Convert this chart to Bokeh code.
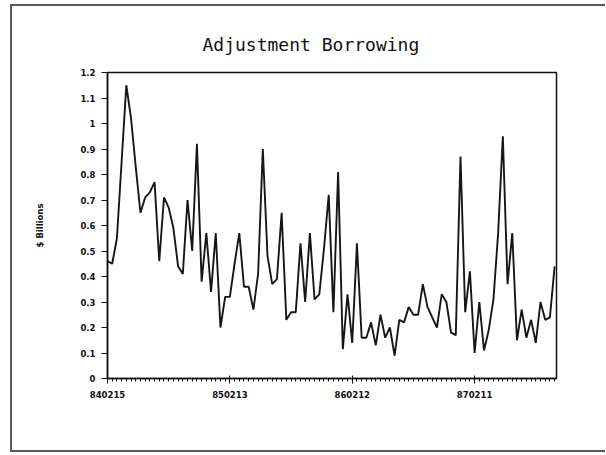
from bokeh.plotting import figure
from bokeh.models import FixedTicker, CustomJSTickFormatter, Range1d, ColumnDataSource
from bokeh.embed import file_html
from bokeh.resources import INLINE

# Biweekly periods starting 840215
period = list(range(96))
borrowing = [
    0.46, 0.45, 0.55, 0.85, 1.15, 1.02, 0.83, 0.65, 0.71, 0.73,
    0.77, 0.46, 0.71, 0.67, 0.59, 0.44, 0.41, 0.70, 0.50, 0.92,
    0.38, 0.57, 0.34, 0.57, 0.20, 0.32, 0.32, 0.45, 0.57, 0.36,
    0.36, 0.27, 0.41, 0.90, 0.48, 0.37, 0.39, 0.65, 0.23, 0.26,
    0.26, 0.53, 0.30, 0.57, 0.31, 0.33, 0.51, 0.72, 0.26, 0.81,
    0.115, 0.33, 0.14, 0.53, 0.16, 0.16, 0.22, 0.13, 0.25, 0.16,
    0.20, 0.09, 0.23, 0.22, 0.28, 0.25, 0.25, 0.37, 0.28, 0.24,
    0.20, 0.33, 0.30, 0.18, 0.17, 0.87, 0.26, 0.42, 0.10, 0.30,
    0.11, 0.19, 0.31, 0.57, 0.95, 0.37, 0.57, 0.15, 0.27, 0.16,
    0.23, 0.14, 0.30, 0.23, 0.24, 0.44,
]
tick_periods = [0, 26, 52, 78]
tick_labels = ["840215", "850213", "860212", "870211"]
y_ticks = [0, 0.1, 0.2, 0.3, 0.4, 0.5, 0.6, 0.7, 0.8, 0.9, 1.0, 1.1, 1.2]

source = ColumnDataSource(dict(period=period, borrowing=borrowing))

p = figure(width=593, height=444, output_backend="svg", toolbar_location=None,
           x_range=Range1d(0, 95.4), y_range=Range1d(0, 1.2),
           min_border_left=95, min_border_right=51, min_border_top=66,
           min_border_bottom=76, background_fill_color="white",
           border_fill_color="white")
p.styles = {
    "box-sizing": "content-box",
    "margin-left": "10px",
    "margin-top": "4px",
    "border-left": "2px solid #5a5a5a",
    "border-top": "2px solid #5a5a5a",
    "border-bottom": "2px solid #5a5a5a",
}

p.title.text = "Adjustment Borrowing"
p.title.align = "left"
p.title.offset = 95
p.title.standoff = 35
p.title.text_font = "DejaVu Sans Mono"
p.title.text_font_size = "18px"
p.title.text_font_style = "normal"
p.title.text_color = "#111111"

p.outline_line_color = "#111111"
p.outline_line_width = 1.5
p.outline_line_alpha = 1.0
p.xgrid.visible = False
p.ygrid.visible = False

p.line("period", "borrowing", source=source, line_color="#161616", line_width=1.9)

xa = p.xaxis[0]
xa.ticker = FixedTicker(ticks=tick_periods, minor_ticks=period)
xa.major_label_overrides = dict(zip(tick_periods, tick_labels))
xa.major_label_text_font = "DejaVu Sans"
xa.major_label_text_font_style = "bold"
xa.major_label_text_font_size = "8.5px"
xa.major_label_text_color = "#111111"
xa.major_label_standoff = 7
xa.major_tick_out = 5
xa.major_tick_in = 3
xa.minor_tick_out = 3
xa.minor_tick_in = 0
xa.axis_line_color = "#111111"
xa.axis_line_width = 1.5
xa.major_tick_line_color = "#111111"
xa.minor_tick_line_color = "#111111"

ya = p.yaxis[0]
ya.ticker = FixedTicker(ticks=y_ticks, minor_ticks=[])
ya.formatter = CustomJSTickFormatter(code="return Number(tick.toFixed(1)).toString();")
ya.major_label_text_font = "DejaVu Sans"
ya.major_label_text_font_style = "bold"
ya.major_label_text_font_size = "8.5px"
ya.major_label_text_color = "#111111"
ya.major_label_standoff = 6
ya.major_tick_out = 6
ya.major_tick_in = 0
ya.minor_tick_line_color = None
ya.axis_line_color = "#111111"
ya.axis_line_width = 1.5
ya.major_tick_line_color = "#111111"
ya.axis_label = "$ Billions"
ya.axis_label_text_font = "DejaVu Sans"
ya.axis_label_text_font_style = "bold"
ya.axis_label_text_font_size = "8.5px"
ya.axis_label_text_color = "#111111"
ya.axis_label_standoff = 32

open("out.html", "w").write(file_html(p, INLINE))
